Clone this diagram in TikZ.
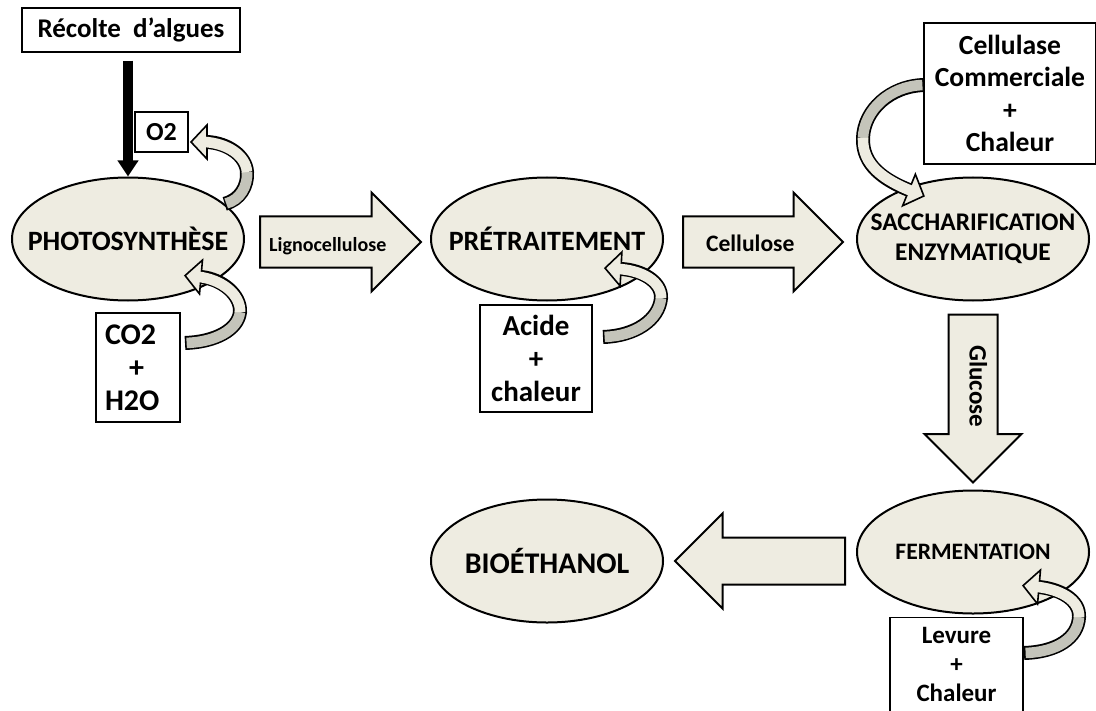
\documentclass[tikz,border=0pt]{standalone}
\usepackage{fontspec}
\setmainfont{Carlito}
\usepackage{tikz}
\usetikzlibrary{positioning, shapes.geometric, shapes.arrows, arrows.meta}
\definecolor{beige}{RGB}{238,236,225}
\definecolor{pli}{RGB}{196,196,186}

\begin{document}
\begin{tikzpicture}[x=0.5pt, y=-0.5pt,
		every node/.style={text=black},
		etape/.style={ellipse, draw, line width=1pt, fill=beige, minimum width=116pt, minimum height=61.5pt, inner xsep=-20pt, inner ysep=0pt, align=center, font=\fontsize{13}{15}\selectfont\bfseries},
		boite/.style={rectangle, draw, line width=0.6pt, fill=white, align=center, inner sep=0pt, font=\fontsize{12.5}{16}\selectfont\bfseries},
		fleche/.style={single arrow, draw, line width=1pt, fill=beige, single arrow head extend=12pt, single arrow tip angle=90, minimum width=0pt, text height=10pt, text depth=0.5pt, inner xsep=1pt, inner ysep=7pt, anchor=tail},
		bande/.style={line width=7pt},
		dos/.style={line width=5.3pt, draw=pli, shorten <=0.8pt},
		face/.style={line width=5.3pt, draw=beige, shorten >=-2pt},
		pointe/.pic={\draw[line width=0.8pt, fill=beige, line join=miter] (0,-17) -- (16,0) -- (0,17) -- cycle;}
		]
		\useasboundingbox (0,0) rectangle (1096,711);
		
		% Etapes principales
		\node[etape, font=\fontsize{14}{15}\selectfont\bfseries] (photo) at (128,239) {PHOTOSYNTHÈSE};
		\node[etape, right=92.5pt of photo, font=\fontsize{14}{15}\selectfont\bfseries] (pret) {PRÉTRAITEMENT};
		\node[etape, right=96pt of pret, font=\fontsize{12.7}{15}\selectfont\bfseries] (sacch) {SACCHARIFICATION\\ENZYMATIQUE};
		\node[etape, below=94pt of sacch, font=\fontsize{11.8}{15}\selectfont\bfseries] (ferm) {FERMENTATION};
		\node[etape, left=96pt of ferm, yshift=-4.5pt, font=\fontsize{15}{15}\selectfont\bfseries] (bio) {BIOÉTHANOL};
		
		% Intrants et produits
		\node[boite, minimum width=109pt, minimum height=22pt, font=\fontsize{13.5}{16}\selectfont\bfseries] (recolte) at (131,30) {Récolte\ \ d’algues};
		\node[boite, minimum width=26.5pt, minimum height=20pt, font=\fontsize{13}{16}\selectfont\bfseries] (o2) at (161.5,132) {O2};
		\node[boite, text width=33pt, align=left, inner xsep=4.5pt, minimum height=54.5pt, font=\fontsize{15}{16.5}\selectfont\bfseries] (co2) at (138,367.5) {CO2\\\hspace*{12pt}+\\H2O};
		\node[boite, minimum width=56pt, minimum height=53.5pt, font=\fontsize{14.5}{16.5}\selectfont\bfseries] (acide) at (536,358.5) {Acide\\+\\chaleur};
		\node[boite, minimum width=86pt, minimum height=70.5pt, font=\fontsize{13.8}{16.3}\selectfont\bfseries] (cellu) at (1010,93.5) {Cellulase\\Commerciale\\+\\Chaleur};
		\node[boite, minimum width=66.5pt, anchor=north, inner ysep=5pt, font=\fontsize{12.5}{14.5}\selectfont\bfseries] (levure) at (956.5,617) {Levure\\+\\Chaleur};
		
		% Grosses fleches
		\node[fleche, minimum height=80.5pt, font=\fontsize{10}{12}\selectfont\bfseries] (ligno) at ([xshift=7pt, yshift=-1.5pt]photo.east) {Lignocellulose};
		\node[fleche, minimum height=80pt, font=\fontsize{11.8}{13}\selectfont\bfseries] (cellulose) at ([xshift=9pt, yshift=-1.5pt]pret.east) {Cellulose};
		\node[fleche, rotate=-90, minimum height=84pt, text height=7pt, text depth=3.5pt, inner ysep=6.5pt, font=\fontsize{12.5}{14}\selectfont\bfseries] (glucose) at ([yshift=-6pt]sacch.south) {Glucose};
		\node[fleche, rotate=180, minimum height=85pt, inner ysep=6pt] (versbio) at ([xshift=-5pt]ferm.west |- bio.center) {};
		
		% Fleche de la recolte
		\draw[line width=5pt, -{Triangle[length=8pt, width=10pt]}, shorten <=4pt] (photo.north |- recolte.south) -- (photo.north);
		
		% Fleche O2
		\draw[bande] (photo.20) .. controls (240,200) and (248,186) .. (247,172) .. controls (246,156) and (228,143) .. (207,142);
		\pic[rotate=180] at (207,142) {pointe};
		\draw[dos] (photo.20) .. controls (240,200) and (248,186) .. (247,172);
		\draw[face] (247,172) .. controls (246,156) and (228,143) .. (207,142);
		
		% Fleche CO2 + H2O
		\draw[bande] (185,343) .. controls (215,342) and (238,330) .. (240,312) .. controls (241,295) and (222,279) .. (201,277);
		\pic[rotate=175] at (201,277) {pointe};
		\draw[dos] (185,343) .. controls (215,342) and (238,330) .. (240,312);
		\draw[face] (240,312) .. controls (241,295) and (222,279) .. (201,277);
		
		% Fleche acide
		\draw[bande] (603,337) .. controls (635,336) and (659,320) .. (661,298) .. controls (662,282) and (642,270) .. (621,269);
		\pic[rotate=177] at (621,269) {pointe};
		\draw[dos] (603,337) .. controls (635,336) and (659,320) .. (661,298);
		\draw[face] (661,298) .. controls (662,282) and (642,270) .. (621,269);
		
		% Fleche cellulase
		\draw[bande] (924,85) .. controls (890,86) and (864,110) .. (863,138) .. controls (862,165) and (884,180) .. (909,190);
		\pic[rotate=-22] at (909,190) {pointe};
		\draw[dos] (924,85) .. controls (890,86) and (864,110) .. (863,138);
		\draw[face] (863,138) .. controls (862,165) and (884,180) .. (909,190);
		
		% Fleche levure
		\draw[bande] (1024,653) .. controls (1057,652) and (1078,638) .. (1079,617) .. controls (1080,600) and (1060,589) .. (1039,587);
		\pic[rotate=175] at (1039,587) {pointe};
		\draw[dos] (1024,653) .. controls (1057,652) and (1078,638) .. (1079,617);
		\draw[face] (1079,617) .. controls (1080,600) and (1060,589) .. (1039,587);
		
	\end{tikzpicture}
\end{document}
